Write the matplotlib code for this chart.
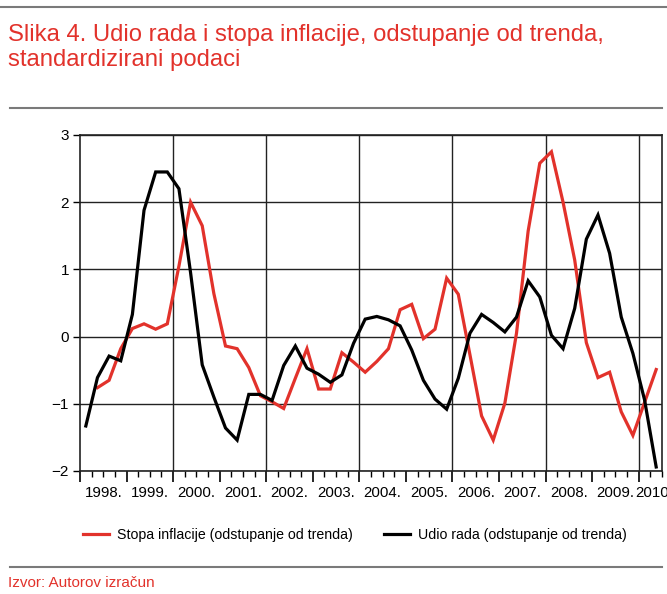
import matplotlib
matplotlib.use("Agg")
import matplotlib.pyplot as plt
from matplotlib.lines import Line2D
import numpy as np

plt.rcParams['font.family'] = ['Liberation Sans', 'DejaVu Sans']

# Quarterly data, 1998Q1 .. 2010Q2
start_year = 1998
udio_rada = [-1.33, -0.61, -0.29, -0.36, 0.33, 1.88, 2.45, 2.45, 2.20, 0.95,
             -0.42, -0.90, -1.36, -1.54, -0.86, -0.86, -0.95, -0.43, -0.14, -0.47,
             -0.56, -0.68, -0.57, -0.10, 0.26, 0.30, 0.25, 0.16, -0.20, -0.65,
             -0.93, -1.08, -0.62, 0.05, 0.33, 0.21, 0.07, 0.29, 0.83, 0.59,
             0.02, -0.18, 0.42, 1.45, 1.81, 1.24, 0.29, -0.25, -0.94, -1.94]
# inflation series starts one quarter later (1998Q2)
stopa_inflacije = [-0.76, -0.65, -0.18, 0.12, 0.19, 0.11, 0.19, 1.05, 2.00,
                   1.65, 0.64, -0.14, -0.18, -0.46, -0.88, -0.97, -1.07, -0.62, -0.18,
                   -0.78, -0.78, -0.24, -0.38, -0.53, -0.37, -0.18, 0.40, 0.48, -0.03,
                   0.11, 0.87, 0.63, -0.27, -1.18, -1.54, -0.99, 0.05, 1.57, 2.58,
                   2.75, 2.00, 1.14, -0.09, -0.61, -0.53, -1.12, -1.47, -0.98, -0.49]
year_labels = ['1998.', '1999.', '2000.', '2001.', '2002.', '2003.', '2004.',
               '2005.', '2006.', '2007.', '2008.', '2009.', '2010.']
y_ticks = [-2, -1, 0, 1, 2, 3]

title_text = "Slika 4. Udio rada i stopa inflacije, odstupanje od trenda,\nstandardizirani podaci"
source_text = "Izvor: Autorov izračun"
label_infl = "Stopa inflacije (odstupanje od trenda)"
label_rada = "Udio rada (odstupanje od trenda)"

RED = '#e2322b'

n = len(udio_rada)
x_rada = start_year + (np.arange(n) + 0.5) / 4.0
x_infl = start_year + (np.arange(1, 1 + len(stopa_inflacije)) + 0.5) / 4.0

fig = plt.figure(figsize=(6.67, 5.94), dpi=100)
ax = fig.add_axes([80 / 667, 1 - 471 / 594, (662 - 80) / 667, (471 - 135) / 594])

ax.plot(x_infl, stopa_inflacije, color=RED, lw=2.3, solid_joinstyle='miter', label=label_infl, zorder=3)
ax.plot(x_rada, udio_rada, color='black', lw=2.3, solid_joinstyle='miter', label=label_rada, zorder=4)

ax.set_xlim(1998, 2010.5)
ax.set_ylim(-2, 3)
ax.set_yticks(y_ticks)
ax.set_yticklabels(['\u22122', '\u22121', '0', '1', '2', '3'])
ax.tick_params(axis='y', labelsize=11, length=5, width=1, direction='out', pad=3)

ax.set_xticks(np.arange(1998, 2011, 1))
ax.set_xticks(np.arange(1998, 2010.51, 0.25), minor=True)
ax.set_xticklabels([])
ax.tick_params(axis='x', which='major', length=8, width=1.2, direction='out')
ax.tick_params(axis='x', which='minor', length=4, width=1, direction='out')

for yv in y_ticks:
    ax.axhline(yv, color='#222222', lw=1.0, zorder=1)
for xv in range(2000, 2011, 2):
    ax.axvline(xv, color='#222222', lw=1.0, zorder=1)

for sp in ax.spines.values():
    sp.set_linewidth(1.2)
    sp.set_color('#222222')

trans = ax.get_xaxis_transform()
for i, lab in enumerate(year_labels):
    xc = start_year + i + 0.5
    if i == len(year_labels) - 1:
        xc = start_year + i + 0.33
    ax.text(xc, -0.065, lab, transform=trans, ha='center', va='center', fontsize=10.8, clip_on=False)

fig.text(8 / 667, 1 - 24 / 594, title_text, color=RED, fontsize=17.2, ha='left', va='top', linespacing=1.2)
fig.text(8 / 667, 1 - 583 / 594, source_text, color=RED, fontsize=11, ha='left', va='center')

for yy, x0, x1 in [(7, 0, 667), (108, 10, 662), (567, 10, 662)]:
    fig.add_artist(Line2D([x0 / 667, x1 / 667], [1 - yy / 594, 1 - yy / 594],
                          transform=fig.transFigure, color='#7a7a7a', lw=1.5))

handles = [Line2D([], [], color=RED, lw=2.3), Line2D([], [], color='black', lw=2.3)]
fig.legend(handles, [label_infl, label_rada], loc='center', bbox_to_anchor=(355 / 667, 1 - 535 / 594),
           ncol=2, frameon=False, fontsize=10.2, handlelength=1.8, handletextpad=0.6, columnspacing=2.2)

fig.savefig('out.png', dpi=100)
